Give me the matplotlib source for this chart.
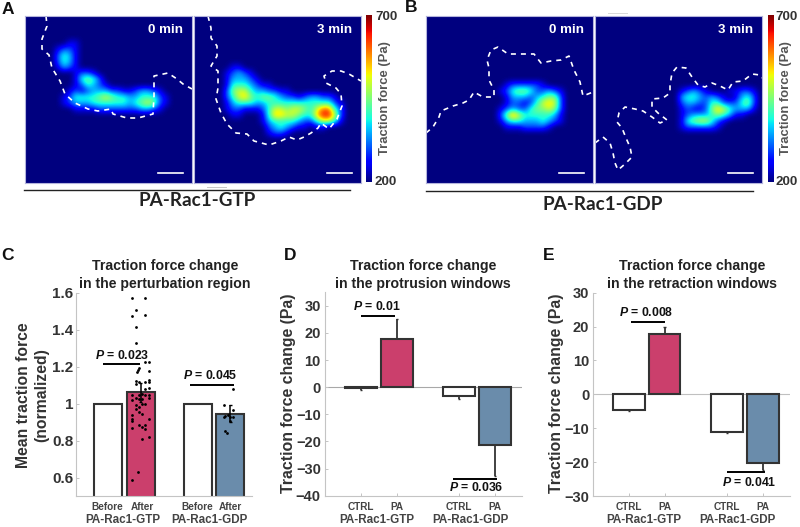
import numpy as np
import matplotlib
matplotlib.use("Agg")
import matplotlib.pyplot as plt

plt.rcParams['font.family'] = ['Liberation Sans', 'DejaVu Sans']
plt.rcParams['mathtext.fontset'] = 'custom'
plt.rcParams['mathtext.it'] = 'Liberation Sans:italic:bold'
plt.rcParams['mathtext.rm'] = 'Liberation Sans:bold'

W, H = 800, 527
DARK = '#333333'
CRIMSON = '#cb3f6c'
STEEL = '#6a8cab'
AXIS_GREY = '#c4c4c4'

# force maps: one digit per 6 px cell, digit * 50 Pa above 200 Pa
a0_col, a0_row = 5, 4
a0_cells = [
    "0011000000000000000",
    "1221000000000000000",
    "2431000000000000000",
    "2431000000000000000",
    "1321000000000000000",
    "0001221000000000000",
    "0001454200000000000",
    "0001243210000000000",
    "0012123332211233210",
    "0124444565443344421",
    "0123334444443456521",
    "0001111222222233210",
]
a3_col, a3_row = 5, 8
a3_cells = [
    "01100000000000000000",
    "12321000000000000000",
    "13332100000000000000",
    "14443211000000000000",
    "25664332211000000000",
    "24675455432212332210",
    "13444334444444444421",
    "12211124665665468842",
    "01100014776654479962",
    "00000013444432246641",
    "00000002343211011000",
    "00000001221000000000",
]
b0_col, b0_row = 12, 11
b0_cells = [
    "01222221000",
    "12455422321",
    "01333234552",
    "01221246762",
    "12322455652",
    "25864444431",
    "13443334321",
    "01112222100",
]
b3_col, b3_row = 14, 12
b3_cells = [
    "1232100011221",
    "3443232101342",
    "2332244222452",
    "1211257643331",
    "1233345431100",
    "1456642100000",
    "1222221000000",
]

# cell edges traced in panel pixels
a0_edge_x = [21, 22, 17, 17, 24, 27, 35, 40, 50, 63, 73, 86, 88, 102, 113, 128, 129, 129, 143, 152, 158, 167]
a0_edge_y = [0, 10, 23, 33, 39, 52, 65, 78, 87, 93, 95, 93, 98, 102, 102, 98, 80, 60, 57, 63, 68, 73]
a3_edge_x = [14, 17, 17, 23, 23, 17, 24, 24, 22, 27, 33, 42, 53, 60, 75, 87, 95, 103, 110, 117, 124, 127, 135, 143, 148, 147, 142, 132, 130, 138, 147, 155, 167]
a3_edge_y = [0, 12, 22, 30, 40, 50, 55, 72, 83, 97, 108, 117, 118, 125, 129, 125, 121, 124, 121, 117, 112, 107, 113, 103, 90, 78, 72, 67, 60, 55, 55, 58, 65]
b0_edge_x = [0, 7, 13, 15, 27, 37, 43, 48, 57, 68, 68, 63, 63, 61, 65, 72, 82, 90, 100, 108, 115, 125, 135, 143, 148, 154, 157, 167]
b0_edge_y = [117, 111, 101, 95, 90, 87, 84, 76, 81, 81, 74, 64, 52, 44, 34, 31, 38, 38, 38, 38, 47, 45, 44, 40, 54, 66, 80, 76]
b3_edge_x = [0, 8, 15, 18, 20, 23, 30, 37, 35, 31, 27, 22, 24, 30, 40, 48, 57, 65, 72, 63, 57, 57, 68, 75, 75, 77, 82, 91, 97, 103, 110, 117, 125, 133, 138, 148, 157, 165, 167]
b3_edge_y = [127, 121, 127, 137, 147, 154, 148, 141, 131, 122, 112, 106, 97, 91, 93, 95, 101, 107, 104, 97, 91, 83, 82, 77, 69, 57, 51, 52, 61, 69, 71, 67, 70, 74, 66, 65, 58, 59, 62]

# panel C
c_pos = [1, 2, 3.75, 4.75]
c_vals = [1.0, 1.061, 1.0, 0.944]
c_err_x = [2, 4.75]
c_err_low = [1.01, 0.90]
c_err_high = [1.112, 0.995]
c_labels = ['Before', 'After', 'Before', 'After']
c_ticks = [0.6, 0.8, 1.0, 1.2, 1.4, 1.6]
c_tick_labels = ['0.6', '0.8', '1', '1.2', '1.4', '1.6']
gtp_offset = [-.26, .14, -.15, -.26, .14, -.15, -.15, .25, .14, -.05, -.08, -.10, .25, -.15, -.15, .25, .25, .14,
              -.05, .25, .14, -.26, -.15, -.05, .05, .14, .25, -.26, -.05, .05, .25, -.15, -.05, .05, .14, -.15,
              -.05, .05, -.26, -.26, -.26, .25, -.26, -.05, .05, .14, .14, .25, .05, -.07, -.26]
gtp_points = [1.569, 1.569, 1.505, 1.473, 1.478, 1.413, 1.330, 1.226, 1.224, 1.195, 1.184, 1.171, 1.175, 1.121, 1.108,
              1.130, 1.117, 1.116, 1.117, 1.087, 1.081, 1.045, 1.032, 1.045, 1.051, 1.045, 1.045, 1.022, 1.027, 1.023,
              1.032, 0.991, 0.982, 1.0, 1.0, 0.973, 0.955, 0.946, 0.937, 0.919, 0.906, 0.919, 0.868, 0.883, 0.874,
              0.883, 0.865, 0.819, 0.809, 0.632, 0.585]
gdp_offset = [.08, -.18, .08, -.15, 0, -.18, .08, -.08, -.02, -.17, -.10]
gdp_points = [1.081, 0.993, 0.968, 0.933, 0.928, 0.930, 0.926, 0.937, 0.904, 0.852, 0.839]

# panel D
d_pos = [1, 2, 3.73, 4.73]
d_vals = [-0.4, 17.7, -3.4, -21.2]
d_err = [-1.0, 25.2, -4.3, -32.7]
d_ticks = [-40, -30, -20, -10, 0, 10, 20, 30]

# panel E
e_pos = [1, 2, 3.75, 4.75]
e_vals = [-4.7, 17.8, -11.2, -20.2]
e_err = [-4.9, 19.9, -11.5, -22.3]
e_ticks = [-30, -20, -10, 0, 10, 20, 30]

bar_colors = ['white', CRIMSON, 'white', STEEL]
pair_labels = ['CTRL', 'PA', 'CTRL', 'PA']
group_labels = ['PA-Rac1-GTP', 'PA-Rac1-GDP']

fig = plt.figure(figsize=(W / 100, H / 100), dpi=100)


def px_axes(left, top, right, bottom):
    return fig.add_axes([left / W, 1 - bottom / H, (right - left) / W, (bottom - top) / H])


def px_text(x, y, s, **kw):
    kw.setdefault('ha', 'center')
    kw.setdefault('va', 'center')
    fig.text(x / W, 1 - y / H, s, **kw)


def px_line(x0, x1, y0, y1, color='black', lw=1.0):
    fig.add_artist(plt.Line2D([x0 / W, x1 / W], [1 - y0 / H, 1 - y1 / H], color=color, lw=lw))


def force_map(left, cells, col0, row0, edge_x, edge_y, label, bar_x):
    ax = px_axes(left, 16, left + 167, 183)
    grid = np.full((28, 28), 200.0)
    for r, row in enumerate(cells):
        for c, ch in enumerate(row):
            grid[row0 + r, col0 + c] = 200 + 50 * int(ch)
    ax.imshow(grid, cmap='jet', vmin=200, vmax=700, interpolation='bicubic',
              extent=(0, 168, 168, 0), aspect='auto')
    ax.plot(edge_x, edge_y, color='white', lw=1.2, dashes=(3, 3))
    ax.plot(bar_x, [157, 157], color='white', lw=1.2)
    ax.text(158, 14, label, color='white', fontsize=9.6, fontweight='bold', ha='right', va='center')
    ax.set_xlim(0, 167)
    ax.set_ylim(167, 0)
    ax.set_xticks([])
    ax.set_yticks([])
    for s in ax.spines.values():
        s.set_color('#b4b4dc')
        s.set_linewidth(0.8)


def colorbar(left, label_x):
    ax = px_axes(left, 15, left + 6, 182)
    ax.imshow(np.linspace(1, 0, 256).reshape(-1, 1), cmap='jet', aspect='auto')
    ax.axis('off')
    px_text(label_x, 17, '700', fontsize=9.6, fontweight='bold', color=DARK)
    px_text(label_x, 182, '200', fontsize=9.6, fontweight='bold', color=DARK)
    px_text(label_x - 1, 98, 'Traction force (Pa)', fontsize=9.4, fontweight='bold', color='#555555', rotation=90)


force_map(25, a0_cells, a0_col, a0_row, a0_edge_x, a0_edge_y, '0 min', [133, 158])
force_map(194, a3_cells, a3_col, a3_row, a3_edge_x, a3_edge_y, '3 min', [133, 158])
force_map(426, b0_cells, b0_col, b0_row, b0_edge_x, b0_edge_y, '0 min', [133, 158])
force_map(595, b3_cells, b3_col, b3_row, b3_edge_x, b3_edge_y, '3 min', [133, 158])
colorbar(366, 386)
colorbar(768, 787)

px_line(24, 350, 189.5, 189.5, color='#222222', lw=1.0)
px_line(426, 753, 190.5, 190.5, color='#222222', lw=1.0)
px_line(207, 226, 187.5, 187.5, color='#c8c8c8', lw=0.7)
px_line(608, 627, 12.5, 12.5, color='#d8d8d8', lw=0.7)
px_text(197, 201, group_labels[0], family='Lato', fontweight='bold', fontsize=13.6, color='#222222')
px_text(603, 204, group_labels[1], family='Lato', fontweight='bold', fontsize=13.6, color='#222222')

for letter, x, y in [('A', 8, 9), ('B', 411, 8), ('C', 7, 255), ('D', 290, 255), ('E', 549, 255)]:
    px_text(x, y, letter, fontsize=12.5, fontweight='bold', color='#111111')


def bar_axes(box, xlim, ylim, pos, vals, ticks, tick_labels, width, pad):
    ax = px_axes(*box)
    ax.bar(pos, vals, width=width, color=bar_colors, edgecolor=DARK, linewidth=1.5, zorder=2)
    ax.set_xlim(*xlim)
    ax.set_ylim(*ylim)
    ax.set_yticks(ticks)
    ax.set_yticklabels(tick_labels, fontweight='bold', color=DARK)
    ax.set_xticks(pos)
    ax.set_xticklabels([])
    ax.tick_params(axis='y', direction='in', length=2, width=0.7, color=AXIS_GREY, pad=pad)
    ax.tick_params(axis='x', direction='in', length=2, width=0.7, color=AXIS_GREY)
    ax.spines['top'].set_visible(False)
    ax.spines['right'].set_visible(False)
    ax.spines['left'].set_color(AXIS_GREY)
    ax.spines['bottom'].set_color(AXIS_GREY)
    return ax


def p_mark(ax, x0, x1, y, tx, ty, s):
    ax.plot([x0, x1], [y, y], color='black', lw=1.4, zorder=5, solid_capstyle='butt')
    ax.text(tx, ty, s, fontsize=8.8, fontweight='bold', color='#111111', ha='center', va='center', zorder=6)


def under_labels(centers, names, groups):
    for x, s in zip(centers, names):
        px_text(x, 507, s, fontsize=7.2, fontweight='bold', color='#444444')
    for x, s in zip(groups, group_labels):
        px_text(x, 520, s, fontsize=8.4, fontweight='bold', color='#444444')


# C
axc = bar_axes((76, 292.7, 252, 496), (0.01, 5.42), (0.5, 1.6), c_pos, c_vals, c_ticks, c_tick_labels, 0.87, 2)
axc.tick_params(axis='y', labelsize=11)
axc.set_xticks([])
axc.vlines(c_err_x, c_err_low, c_err_high, color='black', lw=1.1, zorder=4)
axc.hlines(c_err_high, np.array(c_err_x) - 0.05, np.array(c_err_x) + 0.05, color='black', lw=1.0, zorder=4)
axc.hlines(c_err_low, np.array(c_err_x) - 0.05, np.array(c_err_x) + 0.05, color='black', lw=1.0, zorder=4)
axc.scatter(c_pos[1] + np.array(gtp_offset), gtp_points, s=4, color='black', linewidths=0, zorder=5, clip_on=False)
axc.scatter(c_pos[3] + np.array(gdp_offset), gdp_points, s=4, color='black', linewidths=0, zorder=5, clip_on=False)
p_mark(axc, 0.85, 1.98, 1.215, 1.44, 1.258, r'$P$ = 0.023')
p_mark(axc, 3.51, 4.87, 1.103, 4.13, 1.153, r'$P$ = 0.045')
px_text(165, 275, 'Traction force change\nin the perturbation region', fontsize=10.2, fontweight='bold',
        color='#222222', linespacing=1.3)
px_text(33, 395, 'Mean traction force\n(normalized)', fontsize=11.3, fontweight='bold', color=DARK,
        rotation=90, linespacing=1.25)
under_labels([107, 142, 197, 230], c_labels, [122.5, 209])

# D
axd = bar_axes((325, 291.7, 521.7, 495.7), (0.009, 5.47), (-40, 35.2), d_pos, d_vals, d_ticks,
               [str(t).replace('-', '\u2212') for t in d_ticks], 0.88, 3)
axd.tick_params(axis='y', labelsize=10.5)
axd.axhline(0, color='#a8a8a8', lw=0.8, zorder=1)
axd.vlines(d_pos, d_vals, d_err, color=DARK, lw=1.3, zorder=1)
axd.hlines(d_err, np.array(d_pos) - 0.03, np.array(d_pos) + 0.03, color=DARK, lw=1.0, zorder=1)
p_mark(axd, 1, 1.94, 26.2, 1.44, 29.6, r'$P$ = 0.01')
p_mark(axd, 3.57, 4.78, -34, 4.2, -37.1, r'$P$ = 0.036')
px_text(423, 275, 'Traction force change\nin the protrusion windows', fontsize=10.2, fontweight='bold',
        color='#222222', linespacing=1.3)
px_text(288, 393, 'Traction force change (Pa)', fontsize=11.4, fontweight='bold', color=DARK, rotation=90)
under_labels([361, 397, 459, 495], pair_labels, [376.5, 470])

# E
axe = bar_axes((593.3, 292.7, 790, 496), (0.014, 5.5), (-30, 30), e_pos, e_vals, e_ticks,
               [str(t).replace('-', '\u2212') for t in e_ticks], 0.89, 3)
axe.tick_params(axis='y', labelsize=10.5)
axe.axhline(0, color='#c0c0c0', lw=0.8, zorder=1)
axe.vlines(e_pos, e_vals, e_err, color=DARK, lw=1.3, zorder=1)
axe.hlines(e_err, np.array(e_pos) - 0.03, np.array(e_pos) + 0.03, color=DARK, lw=1.0, zorder=1)
p_mark(axe, 1.065, 2.01, 21.4, 1.48, 24.2, r'$P$ = 0.008')
p_mark(axe, 3.75, 4.79, -23, 4.36, -26, r'$P$ = 0.041')
px_text(691.7, 275, 'Traction force change\nin the retraction windows', fontsize=10.2, fontweight='bold',
        color='#222222', linespacing=1.3)
px_text(556.7, 393, 'Traction force change (Pa)', fontsize=11.4, fontweight='bold', color=DARK, rotation=90)
under_labels([629, 664.5, 727, 763], pair_labels, [644, 737.5])

fig.savefig('out.png', dpi=100)
